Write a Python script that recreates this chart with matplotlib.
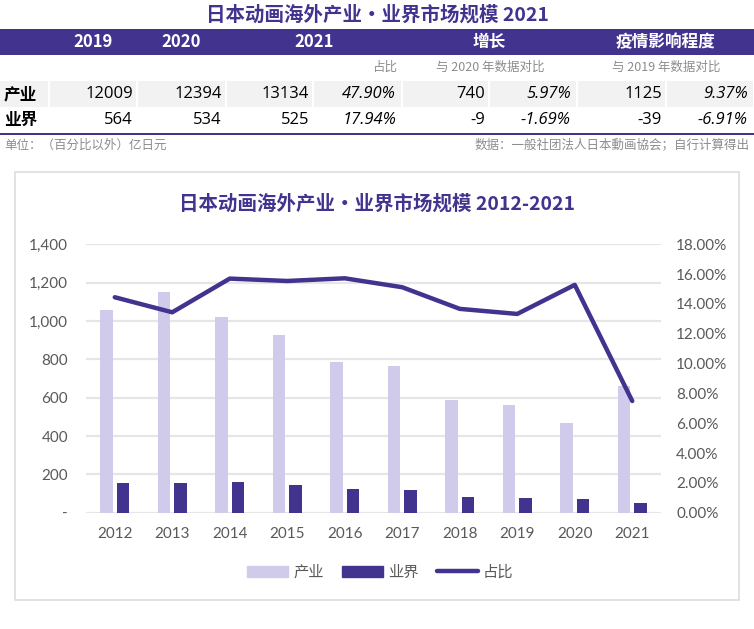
import matplotlib
matplotlib.use("Agg")
import matplotlib.pyplot as plt
from matplotlib.patches import Rectangle
from matplotlib.lines import Line2D
from matplotlib import ticker

plt.rcParams['font.family'] = ['Noto Sans CJK SC', 'DejaVu Sans']

# ---- table data
tbl_title = "日本动画海外产业•业界市场规模 2021"
tbl_header = ["2019", "2020", "2021", "增长", "疫情影响程度"]
tbl_sub = ["占比", "与 2020 年数据对比", "与 2019 年数据对比"]
row_labels = ["产业", "业界"]
row_industry = ["12009", "12394", "13134", "47.90%", "740", "5.97%", "1125", "9.37%"]
row_sector = ["564", "534", "525", "17.94%", "-9", "-1.69%", "-39", "-6.91%"]
note_left = "单位：（百分比以外）亿日元"
note_right = "数据：一般社团法人日本動画協会；自行计算得出"

# ---- chart data
chart_title = "日本动画海外产业•业界市场规模 2012-2021"
years = ["2012", "2013", "2014", "2015", "2016", "2017", "2018", "2019", "2020", "2021"]
industry = [1057, 1152, 1021, 927, 786, 765, 588, 562, 468, 661]
sector = [155, 155, 160, 145, 123, 118, 82, 77, 71, 51]
share = [14.45, 13.44, 15.70, 15.54, 15.72, 15.12, 13.67, 13.33, 15.28, 7.49]

purple = '#42338F'
light = '#D1CBEB'
grey_txt = '#595959'
num_font = ['Open Sans', 'DejaVu Sans']
tick_font = ['Lato', 'DejaVu Sans']

W, H = 754, 629
fig = plt.figure(figsize=(W / 100, H / 100), dpi=100)
fig.patch.set_facecolor('white')


def fx(px):
    return px / W


def fy(py):
    return 1 - py / H


def box(x0, y0, x1, y1, **kw):
    fig.add_artist(Rectangle((fx(x0), fy(y1)), (x1 - x0) / W, (y1 - y0) / H,
                             transform=fig.transFigure, **kw))


# ---- table
fig.text(fx(377), fy(15), tbl_title, ha='center', va='center', fontsize=14,
         fontweight='bold', color=purple)

box(0, 29, W, 54.5, facecolor=purple, edgecolor='none')
cols = [0, 49, 137, 226, 313, 402, 489, 577, 666, 754]
head_x = [93, 181.5, 314, 489.5, 665.5]
for x, t in zip(head_x, tbl_header):
    fig.text(fx(x), fy(42), t, ha='center', va='center', fontsize=12,
             fontweight='bold', color='white')

fig.text(fx(397), fy(67.5), tbl_sub[0], ha='right', va='center', fontsize=9,
         color='#8C8C8C', style='italic')
fig.text(fx(490), fy(67.5), tbl_sub[1], ha='center', va='center', fontsize=9,
         color='#8C8C8C', style='italic')
fig.text(fx(666), fy(67.5), tbl_sub[2], ha='center', va='center', fontsize=9,
         color='#8C8C8C', style='italic')

for i in range(len(cols) - 1):
    box(cols[i] + (0.8 if i else 0), 81, cols[i + 1] - 0.8, 107,
        facecolor='#F2F2F2', edgecolor='none')

for r, (lab, vals) in enumerate(zip(row_labels, [row_industry, row_sector])):
    yc = 94 + r * 25.5
    fig.text(fx(4), fy(yc), lab, ha='left', va='center', fontsize=12,
             fontweight='bold', color='black')
    for j, v in enumerate(vals):
        italic = v.endswith('%')
        fig.text(fx(cols[j + 2] - (6 if italic else 4)), fy(yc), v, ha='right',
                 va='center', fontsize=12, color='black', family=num_font,
                 style='italic' if italic else 'normal')

box(0, 133.3, W, 135.3, facecolor=purple, edgecolor='none')
fig.text(fx(4), fy(145), note_left, ha='left', va='center', fontsize=9,
         color='#8C8C8C', style='italic')
fig.text(fx(750), fy(145), note_right, ha='right', va='center', fontsize=9,
         color='#8C8C8C', style='italic')

# ---- chart box
box(15, 172, 739, 600, facecolor='white', edgecolor='#DDDDDD', linewidth=1.2,
    zorder=-1)
fig.text(fx(377), fy(204), chart_title, ha='center', va='center', fontsize=14,
         fontweight='bold', color=purple)

ax = fig.add_axes([fx(86), fy(512.7), 575 / W, 268.4 / H])
ax.set_facecolor('none')
x = list(range(len(years)))
ax.bar([i - 0.143 for i in x], industry, width=0.22, color=light, label='产业', zorder=2)
ax.bar([i + 0.143 for i in x], sector, width=0.22, color=purple, label='业界', zorder=2)
ax.set_xlim(-0.5, len(years) - 0.5)
ax.set_ylim(0, 1400)
ax.yaxis.set_major_locator(ticker.MultipleLocator(200))
ax.yaxis.set_major_formatter(ticker.FuncFormatter(lambda v, p: '-' if v == 0 else f'{v:,.0f}'))
ax.yaxis.grid(True, color='#E6E6E6', linewidth=1.6, zorder=0)
ax.set_axisbelow(True)
for s in ax.spines.values():
    s.set_visible(False)
ax.set_xticks(x)
ax.set_xticklabels(years)
ax.tick_params(axis='both', length=0, labelsize=11, labelcolor=grey_txt)
ax.tick_params(axis='y', pad=13)
ax.tick_params(axis='x', pad=10)

ax2 = ax.twinx()
ax2.plot(x, [s / 100 for s in share], color=purple, linewidth=3.2,
         solid_capstyle='round', label='占比', zorder=3)
ax2.set_ylim(0, 0.18)
ax2.yaxis.set_major_locator(ticker.MultipleLocator(0.02))
ax2.yaxis.set_major_formatter(ticker.FuncFormatter(lambda v, p: f'{v * 100:.2f}%'))
for s in ax2.spines.values():
    s.set_visible(False)
ax2.tick_params(axis='y', length=0, labelsize=11, labelcolor=grey_txt, pad=11)
for lab in ax.get_xticklabels() + ax.get_yticklabels() + ax2.get_yticklabels():
    lab.set_family(tick_font)

handles = [Rectangle((0, 0), 1, 1, color=light),
           Rectangle((0, 0), 1, 1, color=purple),
           Line2D([0], [0], color=purple, linewidth=3.2, solid_capstyle='round')]
leg = fig.legend(handles, ['产业', '业界', '占比'], loc='center', ncol=3,
                 bbox_to_anchor=(fx(380), fy(572)), frameon=False, fontsize=11,
                 handlelength=2.7, handletextpad=0.3, columnspacing=1.2)
for t in leg.get_texts():
    t.set_color(grey_txt)

fig.savefig('out.png', dpi=100, facecolor='white')
